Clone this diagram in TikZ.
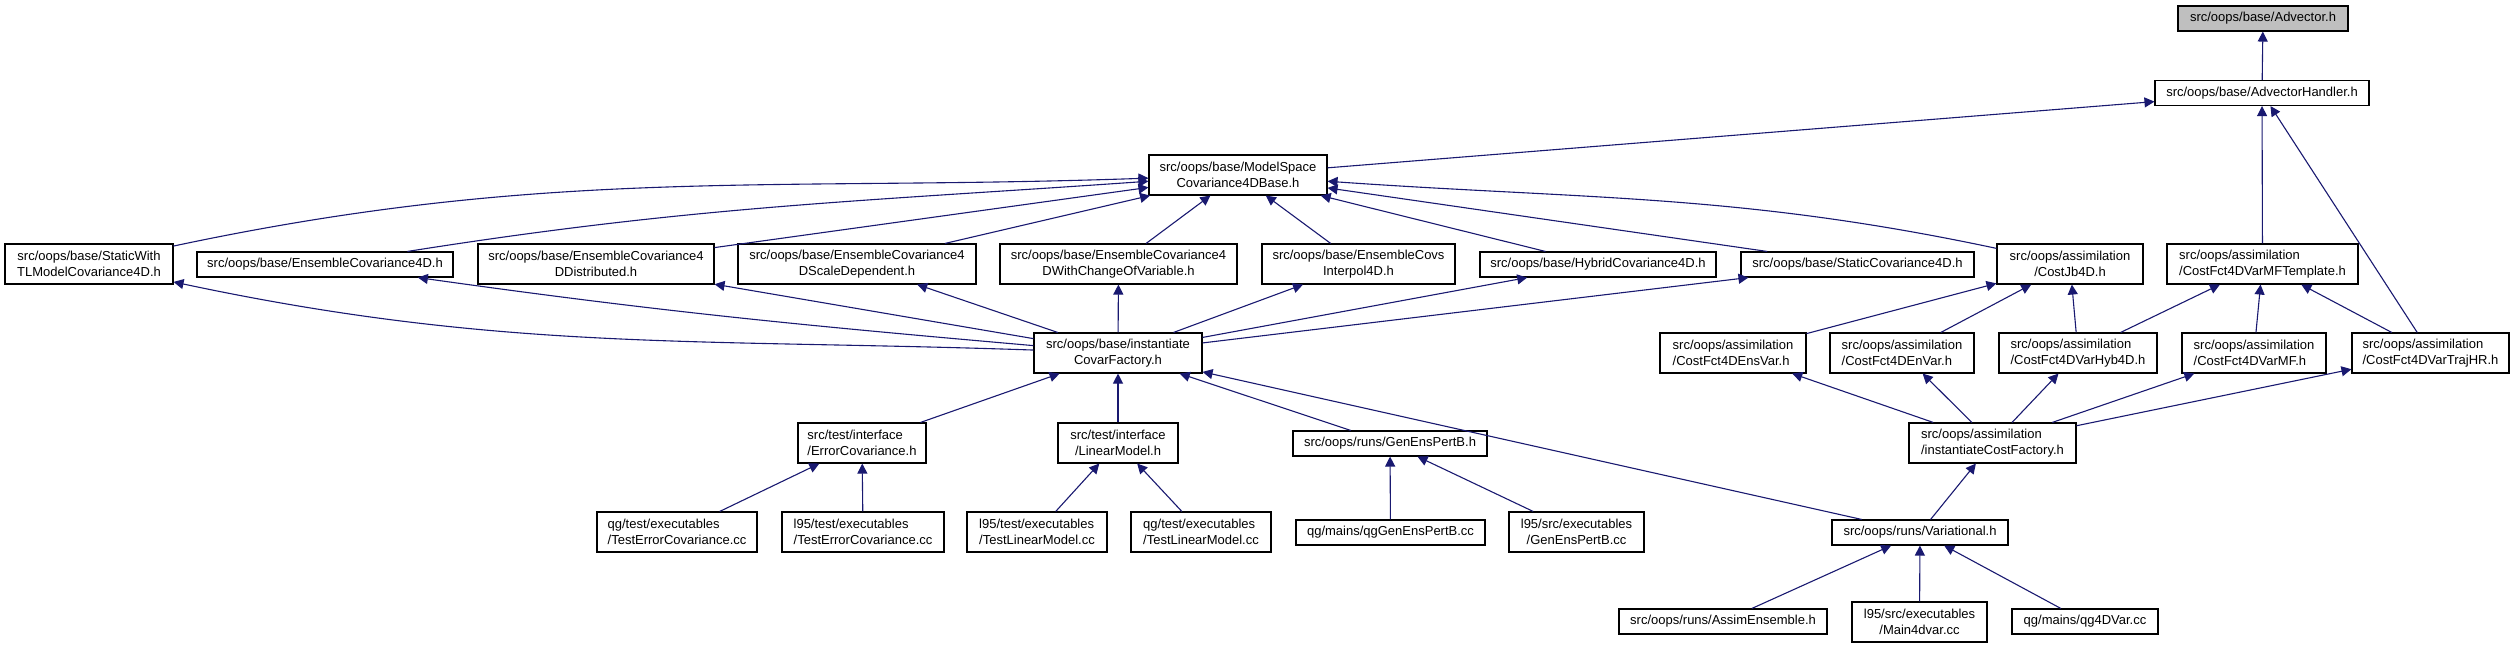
\documentclass[tikz,border=0pt]{standalone}
\usepackage{fontspec}
\setmainfont{Liberation Sans}
\usetikzlibrary{arrows.meta}
\definecolor{edgeblue}{HTML}{191970}
\definecolor{advgray}{HTML}{BFBFBF}

\begin{document}
\begin{tikzpicture}[x=0.5pt, y=0.5pt,
  box/.style={draw=black, fill=white, line width=0.55pt, minimum width=#1*0.5pt,
    inner xsep=0pt, inner ysep=0pt, align=center,
    font=\fontsize{6.5}{8}\selectfont},
  oneline/.style={minimum height=12.5pt},
  twoline/.style={minimum height=20pt},
  lalign/.style={align=left},
  edge/.style={draw=edgeblue, line width=0.55pt,
    -{Triangle[length=5pt, width=5pt]}}]
\useasboundingbox (0,0) rectangle (2515,-648);

\node[box=170, oneline, fill=advgray] (adv) at (2263,-18.5) {src/oops/base/Advector.h};
\node[box=214, oneline] (advh) at (2262,-93) {src/oops/base/AdvectorHandler.h};
\node[box=178, twoline] (ms) at (1238,-175) {src/oops/base/ModelSpace\\Covariance4DBase.h};

\node[box=168, twoline] (stl) at (89,-264) {src/oops/base/StaticWith\\TLModelCovariance4D.h};
\node[box=256, oneline] (ec4d) at (325,-264.5) {src/oops/base/EnsembleCovariance4D.h};
\node[box=236, twoline] (ecd) at (596,-264) {src/oops/base/EnsembleCovariance4\\DDistributed.h};
\node[box=238, twoline] (ecsd) at (857,-264) {src/oops/base/EnsembleCovariance4\\DScaleDependent.h};
\node[box=237, twoline] (ecwc) at (1118.5,-264) {src/oops/base/EnsembleCovariance4\\DWithChangeOfVariable.h};
\node[box=193, twoline] (eci) at (1358.5,-264) {src/oops/base/EnsembleCovs\\Interpol4D.h};
\node[box=236, oneline] (hyb) at (1598,-264.5) {src/oops/base/HybridCovariance4D.h};
\node[box=233, oneline] (sc4d) at (1857.5,-264.5) {src/oops/base/StaticCovariance4D.h};
\node[box=146, twoline] (jb) at (2070,-264) {src/oops/assimilation\\/CostJb4D.h};
\node[box=191, twoline, lalign] (mft) at (2262.5,-264) {src/oops/assimilation\\/CostFct4DVarMFTemplate.h};

\node[box=168, twoline] (icf) at (1118,-353) {src/oops/base/instantiate\\CovarFactory.h};
\node[box=146, twoline, lalign] (ensvar) at (1733,-353) {src/oops/assimilation\\/CostFct4DEnsVar.h};
\node[box=144, twoline, lalign] (envar) at (1902,-353) {src/oops/assimilation\\/CostFct4DEnVar.h};
\node[box=158, twoline, lalign] (hyb4d) at (2078,-353) {src/oops/assimilation\\/CostFct4DVarHyb4D.h};
\node[box=144, twoline, lalign] (mf) at (2254,-353) {src/oops/assimilation\\/CostFct4DVarMF.h};
\node[box=157, twoline, lalign] (trajhr) at (2430.5,-353) {src/oops/assimilation\\/CostFct4DVarTrajHR.h};

\node[box=128, twoline, lalign] (errc) at (862,-443) {src/test/interface\\/ErrorCovariance.h};
\node[box=120, twoline] (lm) at (1118,-443) {src/test/interface\\/LinearModel.h};
\node[box=194, oneline] (gep) at (1390,-443.5) {src/oops/runs/GenEnsPertB.h};
\node[box=167, twoline, lalign] (icost) at (1992.5,-443) {src/oops/assimilation\\/instantiateCostFactory.h};

\node[box=160, twoline, lalign] (tecqg) at (677,-532) {qg/test/executables\\/TestErrorCovariance.cc};
\node[box=162, twoline, lalign] (tecl) at (863,-532) {l95/test/executables\\/TestErrorCovariance.cc};
\node[box=140, twoline, lalign] (tlml) at (1037,-532) {l95/test/executables\\/TestLinearModel.cc};
\node[box=140, twoline, lalign] (tlmqg) at (1201,-532) {qg/test/executables\\/TestLinearModel.cc};
\node[box=189, oneline] (qggep) at (1390.5,-532.5) {qg/mains/qgGenEnsPertB.cc};
\node[box=135, twoline] (lgep) at (1576.5,-532) {l95/src/executables\\/GenEnsPertB.cc};
\node[box=176, oneline] (var) at (1920,-532.5) {src/oops/runs/Variational.h};

\node[box=208, oneline] (ae) at (1723,-621.5) {src/oops/runs/AssimEnsemble.h};
\node[box=135, twoline] (m4d) at (1919.5,-622) {l95/src/executables\\/Main4dvar.cc};
\node[box=146, oneline] (qg4d) at (2085,-621.5) {qg/mains/qg4DVar.cc};

\draw[edge] (advh) -- (adv);
\draw[edge] (ms) -- (advh);
\draw[edge] (mft) -- (advh);
\draw[edge] (trajhr) -- (advh);

\draw[edge] (stl) to[out=12, in=182] (ms);
\draw[edge] (ec4d) to[out=9, in=184] (ms);
\foreach \n in {ecd, ecsd, ecwc, eci, hyb, sc4d}
  \draw[edge] (\n) -- (ms);
\draw[edge] (jb) to[out=168, in=-4] (ms);

\draw[edge] (icf) to[out=178, in=-12] (stl);
\draw[edge] (icf) to[out=175, in=-8] (ec4d);
\foreach \n in {ecd, ecsd, ecwc, eci, hyb, sc4d}
  \draw[edge] (icf) -- (\n);
\foreach \n in {errc, lm, gep, var}
  \draw[edge] (\n) -- (icf);

\foreach \n in {ensvar, envar, hyb4d}
  \draw[edge] (\n) -- (jb);
\foreach \n in {hyb4d, mf, trajhr}
  \draw[edge] (\n) -- (mft);
\foreach \n in {ensvar, envar, hyb4d, mf, trajhr}
  \draw[edge] (icost) -- (\n);
\draw[edge] (var) -- (icost);

\foreach \n in {tecqg, tecl}
  \draw[edge] (\n) -- (errc);
\foreach \n in {tlml, tlmqg}
  \draw[edge] (\n) -- (lm);
\foreach \n in {qggep, lgep}
  \draw[edge] (\n) -- (gep);
\foreach \n in {ae, m4d, qg4d}
  \draw[edge] (\n) -- (var);
\end{tikzpicture}
\end{document}
